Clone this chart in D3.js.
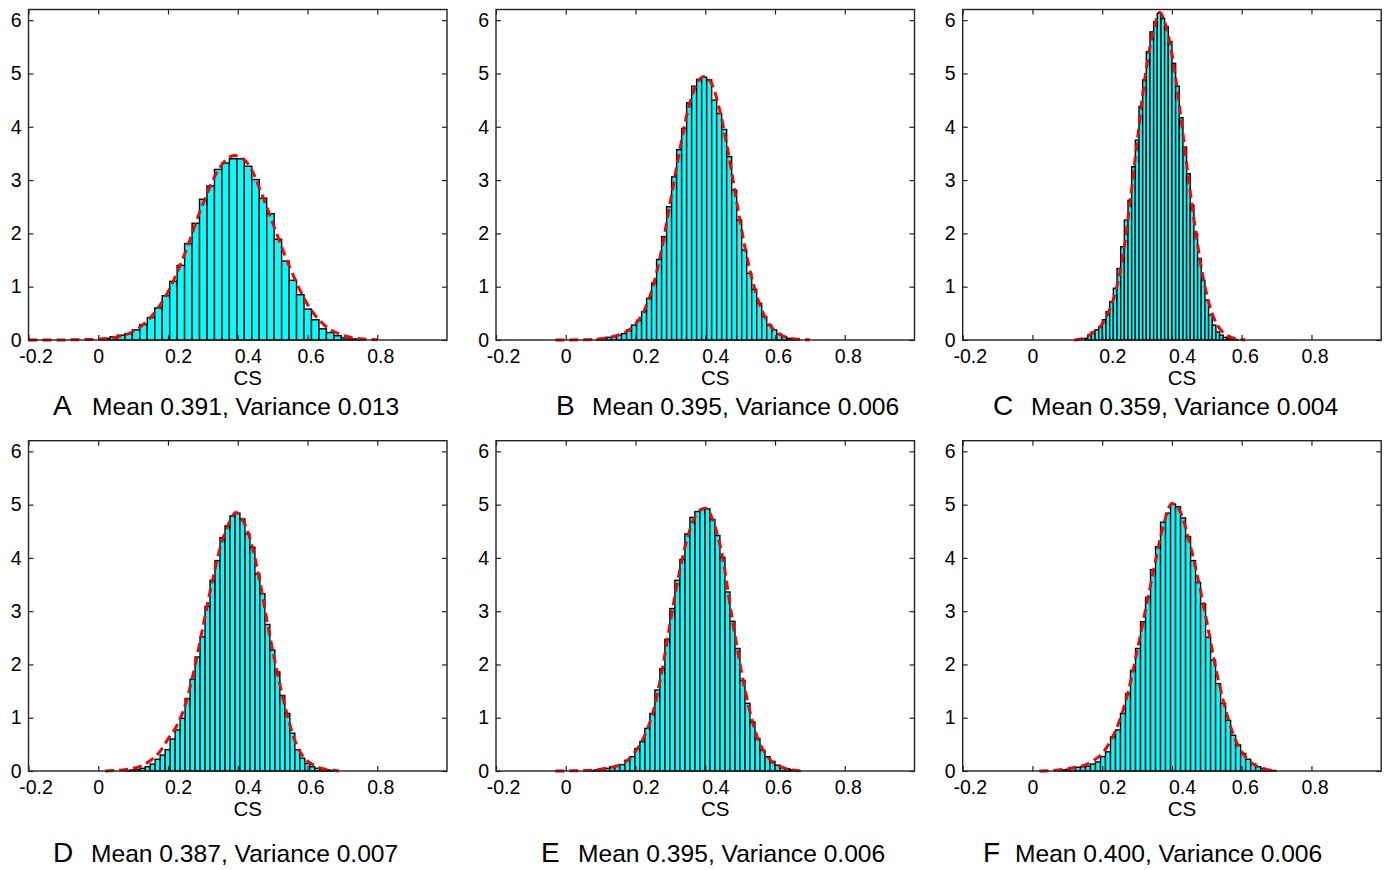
<!DOCTYPE html>
<html>
<head>
<meta charset="utf-8">
<script src="https://cdn.jsdelivr.net/npm/d3@7"></script>
<style>
  body { margin: 0; background: #fff; }
  svg { display: block; }
  text { font-family: "Liberation Sans", Arial, Helvetica, sans-serif; fill: #000; }
</style>
</head>
<body>
<svg id="chart" width="1390" height="870"></svg>
<script>
// ---- data -------------------------------------------------------------
const panelLetters   = ["A", "B", "C", "D", "E", "F"];
const panelMeans     = ["0.391", "0.395", "0.359", "0.387", "0.395", "0.400"];
const panelVariances = ["0.013", "0.006", "0.004", "0.007", "0.006", "0.006"];

const xTicks      = [-0.2, 0, 0.2, 0.4, 0.6, 0.8];
const xTickLabels = ["-0.2", "0", "0.2", "0.4", "0.6", "0.8"];
const yTicks      = [0, 1, 2, 3, 4, 5, 6];
const xDomain     = [-0.2, 1.0];
const yDomain     = [0, 6.2];
const xAxisTitle  = "CS";

// histogram: left edge of first bin, bin width, density per bin
const binStartA = 0.0122, binWidthA = 0.0214;
const densityA = [0.03, 0.06, 0.09, 0.12, 0.19, 0.29, 0.42, 0.60, 0.83, 1.10, 1.40, 1.81,
  2.19, 2.64, 2.89, 3.20, 3.32, 3.40, 3.40, 3.26, 3.01, 2.66, 2.37, 1.89, 1.48, 1.12,
  0.85, 0.58, 0.38, 0.21, 0.14, 0.08, 0.04, 0.02, 0.01];

const binStartB = 0.0883, binWidthB = 0.01435;
const densityB = [0.01, 0.02, 0.05, 0.06, 0.09, 0.12, 0.19, 0.28, 0.37, 0.53, 0.78, 1.07,
  1.51, 1.94, 2.50, 3.06, 3.57, 3.97, 4.45, 4.76, 4.89, 4.93, 4.88, 4.50, 4.25, 3.95,
  3.44, 2.81, 2.25, 1.69, 1.25, 0.95, 0.69, 0.44, 0.28, 0.19, 0.11, 0.06, 0.03, 0.01];

const binStartC = 0.148, binWidthC = 0.0105;
const densityC = [0.03, 0.09, 0.15, 0.19, 0.25, 0.38, 0.53, 0.72, 0.97, 1.34, 1.75, 2.25,
  2.62, 3.25, 3.75, 4.38, 4.88, 5.41, 5.78, 5.97, 6.13, 6.03, 5.88, 5.60, 5.19, 4.76,
  4.17, 3.62, 3.12, 2.53, 2.00, 1.53, 1.12, 0.75, 0.47, 0.28, 0.15, 0.09, 0.05, 0.03,
  0.02, 0.01];

const binStartD = 0.0774, binWidthD = 0.0143;
const densityD = [0.01, 0.02, 0.03, 0.05, 0.08, 0.13, 0.22, 0.30, 0.40, 0.60, 0.77, 0.99,
  1.36, 1.72, 2.14, 2.52, 3.09, 3.58, 3.95, 4.38, 4.60, 4.79, 4.84, 4.73, 4.45, 4.20,
  3.70, 3.33, 2.75, 2.27, 1.86, 1.42, 1.08, 0.71, 0.40, 0.24, 0.14, 0.08, 0.05, 0.03,
  0.02, 0.01];

const binStartE = 0.069, binWidthE = 0.01435;
const densityE = [0.01, 0.02, 0.04, 0.05, 0.08, 0.10, 0.12, 0.20, 0.27, 0.42, 0.55, 0.80,
  1.08, 1.52, 1.92, 2.47, 3.05, 3.58, 3.97, 4.45, 4.76, 4.87, 4.91, 4.92, 4.72, 4.42,
  4.01, 3.36, 2.81, 2.30, 1.70, 1.27, 0.92, 0.61, 0.39, 0.27, 0.18, 0.11, 0.06, 0.04,
  0.02, 0.01];

const binStartF = 0.0803, binWidthF = 0.01435;
const densityF = [0.02, 0.03, 0.05, 0.07, 0.08, 0.09, 0.13, 0.17, 0.27, 0.36, 0.64, 0.77,
  1.08, 1.45, 1.89, 2.30, 2.80, 3.26, 3.78, 4.21, 4.67, 4.84, 5.01, 4.96, 4.75, 4.40,
  3.95, 3.54, 3.14, 2.51, 2.08, 1.64, 1.27, 0.95, 0.67, 0.49, 0.33, 0.22, 0.13, 0.08,
  0.05, 0.03, 0.01];

// fitted density curves, [CS, density]
const fitA = [[-0.2, 0], [-0.1, 0.002], [-0.05, 0.006], [0, 0.015], [0.05, 0.05], [0.1, 0.16],
  [0.15, 0.42], [0.2, 0.9], [0.25, 1.65], [0.3, 2.55], [0.35, 3.25], [0.39, 3.46], [0.43, 3.3],
  [0.47, 2.72], [0.5, 2.2], [0.55, 1.35], [0.6, 0.67], [0.65, 0.27], [0.7, 0.09], [0.75, 0.025],
  [0.8, 0.005]];
const fitB = [[-0.03, 0], [0.05, 0.005], [0.1, 0.025], [0.125, 0.05], [0.15, 0.09], [0.175, 0.16],
  [0.2, 0.3], [0.225, 0.55], [0.25, 1.0], [0.275, 1.7], [0.3, 2.6], [0.325, 3.5], [0.35, 4.3],
  [0.375, 4.8], [0.395, 4.94], [0.415, 4.85], [0.44, 4.35], [0.465, 3.55], [0.49, 2.6],
  [0.515, 1.7], [0.54, 1.0], [0.565, 0.52], [0.59, 0.24], [0.615, 0.1], [0.64, 0.04],
  [0.67, 0.012], [0.7, 0.003]];
const fitC = [[0.12, 0], [0.14, 0.02], [0.16, 0.08], [0.18, 0.17], [0.2, 0.3], [0.22, 0.55],
  [0.24, 0.95], [0.26, 1.6], [0.28, 2.6], [0.3, 3.7], [0.32, 4.8], [0.34, 5.6], [0.355, 6.0],
  [0.365, 6.15], [0.375, 6.05], [0.39, 5.7], [0.41, 4.95], [0.43, 3.95], [0.45, 2.9],
  [0.47, 1.95], [0.49, 1.15], [0.51, 0.6], [0.53, 0.28], [0.55, 0.12], [0.57, 0.05],
  [0.6, 0.01], [0.61, 0]];
const fitD = [[0.02, 0], [0.05, 0.01], [0.08, 0.03], [0.1, 0.05], [0.125, 0.1], [0.15, 0.2],
  [0.175, 0.35], [0.2, 0.6], [0.225, 0.85], [0.25, 1.25], [0.275, 1.9], [0.3, 2.7], [0.325, 3.5],
  [0.35, 4.2], [0.375, 4.65], [0.395, 4.85], [0.415, 4.7], [0.44, 4.25], [0.465, 3.5],
  [0.49, 2.6], [0.515, 1.8], [0.54, 1.1], [0.565, 0.55], [0.59, 0.25], [0.615, 0.12],
  [0.64, 0.05], [0.665, 0.02], [0.69, 0]];
const fitE = [[-0.03, 0], [0.03, 0.005], [0.08, 0.015], [0.1, 0.035], [0.125, 0.06], [0.15, 0.1],
  [0.175, 0.19], [0.2, 0.37], [0.225, 0.65], [0.25, 1.1], [0.275, 1.85], [0.3, 2.8], [0.325, 3.7],
  [0.35, 4.4], [0.375, 4.82], [0.4, 4.93], [0.425, 4.65], [0.45, 4.0], [0.475, 2.95],
  [0.5, 2.0], [0.525, 1.2], [0.55, 0.62], [0.575, 0.3], [0.6, 0.13], [0.625, 0.06],
  [0.65, 0.02], [0.67, 0.005]];
const fitF = [[0.02, 0], [0.06, 0.01], [0.1, 0.04], [0.125, 0.07], [0.15, 0.11], [0.175, 0.2],
  [0.2, 0.33], [0.225, 0.58], [0.25, 0.95], [0.275, 1.5], [0.3, 2.25], [0.325, 3.05],
  [0.35, 3.85], [0.375, 4.6], [0.4, 5.02], [0.425, 4.85], [0.45, 4.3], [0.475, 3.6], [0.5, 2.8],
  [0.525, 1.95], [0.55, 1.25], [0.575, 0.7], [0.6, 0.36], [0.625, 0.17], [0.65, 0.07],
  [0.675, 0.02], [0.7, 0]];

const panels = [
  { start: binStartA, width: binWidthA, density: densityA, fit: fitA },
  { start: binStartB, width: binWidthB, density: densityB, fit: fitB },
  { start: binStartC, width: binWidthC, density: densityC, fit: fitC },
  { start: binStartD, width: binWidthD, density: densityD, fit: fitD },
  { start: binStartE, width: binWidthE, density: densityE, fit: fitE },
  { start: binStartF, width: binWidthF, density: densityF, fit: fitF }
].map((p, i) => ({ ...p, letter: panelLetters[i], mean: panelMeans[i], variance: panelVariances[i] }));

// ---- layout -----------------------------------------------------------
const colLeft   = [28.5, 496, 962.7];
const rowTop    = [9.5, 440.7];
const rowBottom = [340, 771];
const boxWidth  = 418.5;
const captionBaseline = [415, 862];
// [letter x, text x] for each caption
const captionX = [[53, 92], [556, 592], [993, 1031], [53, 91], [541, 578], [983, 1015]];
// horizontal nudge of each x tick label
const tickLabelNudge = [7, 0, 10, 10, 3, 3];

const fontFamily = '"Liberation Sans", Arial, Helvetica, sans-serif';
const svg = d3.select("#chart");
svg.append("rect").attr("width", 1390).attr("height", 870).attr("fill", "#fff");

panels.forEach((p, i) => {
  const col = i % 3, row = Math.floor(i / 3);
  const left = colLeft[col], top = rowTop[row], bottom = rowBottom[row];

  const x = d3.scaleLinear().domain(xDomain).range([left, left + boxWidth]);
  const y = d3.scaleLinear().domain(yDomain).range([bottom, top]);

  const g = svg.append("g").attr("class", "panel");

  // histogram bars
  g.append("g").selectAll("rect").data(p.density).join("rect")
    .attr("x", (d, k) => x(p.start + k * p.width))
    .attr("width", (d, k) => x(p.start + (k + 1) * p.width) - x(p.start + k * p.width))
    .attr("y", d => y(d))
    .attr("height", d => y(0) - y(d))
    .attr("fill", "#00ffff")
    .attr("stroke", "#000")
    .attr("stroke-width", 1.4);

  // fitted density, dashed red
  g.append("path").datum(p.fit)
    .attr("d", d3.line().x(d => x(d[0])).y(d => y(d[1])).curve(d3.curveMonotoneX))
    .attr("fill", "none")
    .attr("stroke", "#ff0000")
    .attr("stroke-width", 3)
    .attr("stroke-dasharray", "9,5");

  // axes with inward ticks on all four sides
  const styleAxis = a => {
    a.select(".domain").remove();
    a.selectAll("line").attr("stroke", "#222").attr("stroke-width", 1.2);
    a.attr("font-family", fontFamily).attr("font-size", 19.5);
    a.selectAll("text").attr("fill", "#000");
  };

  g.append("g").attr("transform", `translate(0,${bottom})`)
    .call(d3.axisBottom(x).tickValues(xTicks).tickFormat((d, k) => xTickLabels[k])
      .tickSize(-5).tickSizeOuter(0).tickPadding(9))
    .call(styleAxis)
    .call(a => a.selectAll(".tick text").attr("dx", (d, k) => tickLabelNudge[k]));

  g.append("g").attr("transform", `translate(0,${top})`)
    .call(d3.axisTop(x).tickValues(xTicks).tickFormat("").tickSize(-5).tickSizeOuter(0))
    .call(styleAxis);

  g.append("g").attr("transform", `translate(${left},0)`)
    .call(d3.axisLeft(y).tickValues(yTicks).tickFormat(d3.format("d"))
      .tickSize(-5).tickSizeOuter(0).tickPadding(7))
    .call(styleAxis);

  g.append("g").attr("transform", `translate(${left + boxWidth},0)`)
    .call(d3.axisRight(y).tickValues(yTicks).tickFormat("").tickSize(-5).tickSizeOuter(0))
    .call(styleAxis);

  // plot frame
  g.append("rect")
    .attr("x", left).attr("y", top)
    .attr("width", boxWidth).attr("height", bottom - top)
    .attr("fill", "none").attr("stroke", "#222").attr("stroke-width", 1.4);

  // axis title
  g.append("text")
    .attr("x", left + boxWidth / 2 + 10)
    .attr("y", bottom + 45)
    .attr("text-anchor", "middle")
    .attr("font-size", 20.5)
    .text(xAxisTitle);

  // caption: panel letter and summary statistics
  g.append("text")
    .attr("x", captionX[i][0]).attr("y", captionBaseline[row])
    .attr("font-size", 28)
    .text(p.letter);
  g.append("text")
    .attr("x", captionX[i][1]).attr("y", captionBaseline[row])
    .attr("font-size", 24.6)
    .text(`Mean ${p.mean}, Variance ${p.variance}`);
});
</script>
</body>
</html>
